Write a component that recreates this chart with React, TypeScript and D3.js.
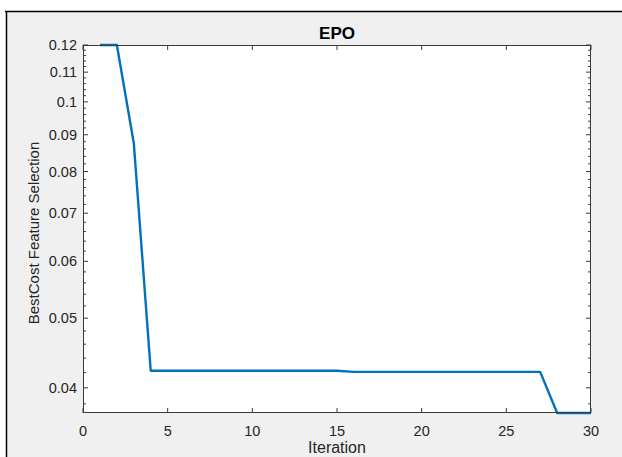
import React from "react";
import * as d3 from "d3";

const iterations = Array.from({ length: 30 }, (_, i) => i + 1);
const bestCost = [
  0.12, 0.12, 0.0876, 0.04225, 0.04225, 0.04225, 0.04225, 0.04225, 0.04225, 0.04225,
  0.04225, 0.04225, 0.04225, 0.04225, 0.04225, 0.0421, 0.0421, 0.0421, 0.0421, 0.0421,
  0.0421, 0.0421, 0.0421, 0.0421, 0.0421, 0.0421, 0.0421, 0.0369, 0.0369, 0.0369,
];
const xTicks = [0, 5, 10, 15, 20, 25, 30];
const yTicks = [0.04, 0.05, 0.06, 0.07, 0.08, 0.09, 0.1, 0.11, 0.12];
const yTickLabels = ["0.04", "0.05", "0.06", "0.07", "0.08", "0.09", "0.1", "0.11", "0.12"];
const yMinorTicks: number[] = [];
for (let k = 19; k <= 59; k++) {
  const v = k * 0.002;
  if (k % 5 !== 0) yMinorTicks.push(+v.toFixed(3));
}
const title = "EPO";
const xLabel = "Iteration";
const yLabel = "BestCost Feature Selection";

const W = 622, H = 457;
const L = 83, R = 591, T = 45, B = 413;
const font = "'Liberation Sans', Arial, Helvetica, sans-serif";
const textColor = "#262626";
const axisColor = "#3a3a3a";

export default function App() {
  const x = d3.scaleLinear().domain([0, 30]).range([L, R]);
  const y = d3.scaleLog().domain([d3.min(bestCost)!, d3.max(bestCost)!]).range([B, T]);
  const line = d3
    .line<number>()
    .x((_, i) => x(iterations[i]))
    .y((d) => y(d));

  return (
    <svg
      width={W}
      height={H}
      style={{ position: "absolute", left: 0, top: 0 }}
      fontFamily={font}
    >
      <rect x={0} y={0} width={W} height={H} fill="#ffffff" />
      <rect x={6} y={11} width={W - 6} height={H - 11} fill="#f0f0f0" />
      <line x1={5} x2={W} y1={11.5} y2={11.5} stroke="#000" strokeWidth={1.5} />
      <line x1={6.5} x2={6.5} y1={11} y2={H} stroke="#000" strokeWidth={1.5} />
      <rect x={L} y={T} width={R - L} height={B - T} fill="#ffffff" />

      {/* x ticks */}
      {xTicks.map((t) => (
        <g key={"x" + t}>
          <line x1={x(t)} x2={x(t)} y1={B} y2={B - 5} stroke={axisColor} strokeWidth={1} />
          <line x1={x(t)} x2={x(t)} y1={T} y2={T + 5} stroke={axisColor} strokeWidth={1} />
          <text x={x(t)} y={435.5} fontSize={14.5} fill={textColor} textAnchor="middle">
            {t}
          </text>
        </g>
      ))}
      {/* y major ticks */}
      {yTicks.map((t, i) => (
        <g key={"y" + t}>
          <line x1={L} x2={L + 5} y1={y(t)} y2={y(t)} stroke={axisColor} strokeWidth={1} />
          <line x1={R} x2={R - 5} y1={y(t)} y2={y(t)} stroke={axisColor} strokeWidth={1} />
          <text x={77} y={y(t) + 5} fontSize={14.5} fill={textColor} textAnchor="end">
            {yTickLabels[i]}
          </text>
        </g>
      ))}
      {/* y minor ticks */}
      {yMinorTicks.map((t) => (
        <g key={"ym" + t}>
          <line x1={L} x2={L + 3} y1={y(t)} y2={y(t)} stroke={axisColor} strokeWidth={1} />
          <line x1={R} x2={R - 3} y1={y(t)} y2={y(t)} stroke={axisColor} strokeWidth={1} />
        </g>
      ))}

      <path d={line(bestCost) || ""} fill="none" stroke="#0072BD" strokeWidth={2.4} strokeLinejoin="round" />

      <rect x={L + 0.5} y={T + 0.5} width={R - L - 1} height={B - T - 1} fill="none" stroke={axisColor} strokeWidth={1} />

      <text x={(L + R) / 2} y={39} fontSize={17} fontWeight="bold" fill="#000" textAnchor="middle">
        {title}
      </text>
      <text x={(L + R) / 2} y={453} fontSize={16} fill={textColor} textAnchor="middle">
        {xLabel}
      </text>
      <text
        transform={`translate(39, 233) rotate(-90)`}
        fontSize={15}
        fill={textColor}
        textAnchor="middle"
      >
        {yLabel}
      </text>
    </svg>
  );
}
